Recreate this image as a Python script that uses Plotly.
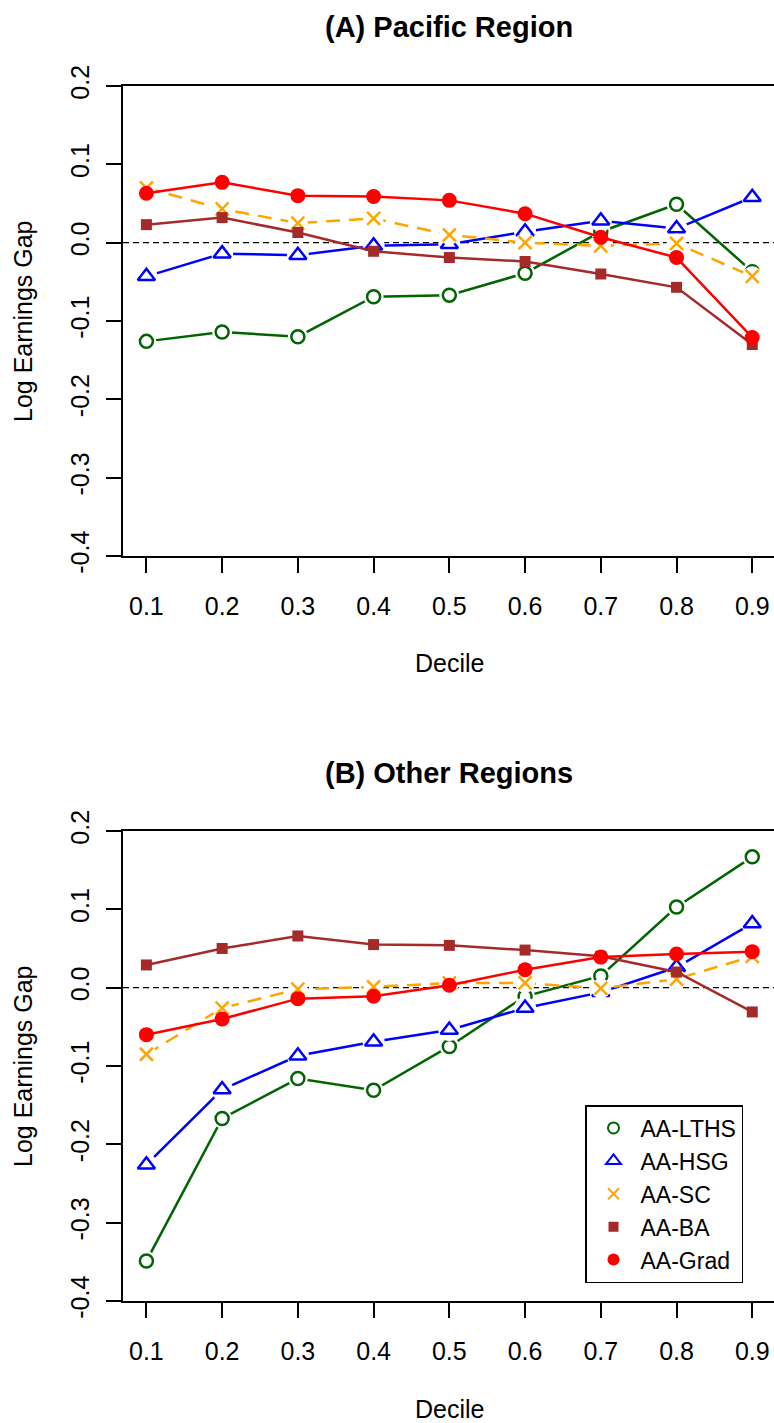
import plotly.graph_objects as go

deciles = [0.1, 0.2, 0.3, 0.4, 0.5, 0.6, 0.7, 0.8, 0.9]
tick_vals_y = [-0.4, -0.3, -0.2, -0.1, 0.0, 0.1, 0.2]
tick_text_y = ["-0.4", "-0.3", "-0.2", "-0.1", "0.0", "0.1", "0.2"]
tick_text_x = ["0.1", "0.2", "0.3", "0.4", "0.5", "0.6", "0.7", "0.8", "0.9"]

series_names = ["AA-LTHS", "AA-HSG", "AA-SC", "AA-BA", "AA-Grad"]

# (A) Pacific Region
pacific_lths = [-0.126, -0.114, -0.120, -0.069, -0.067, -0.039, 0.014, 0.049, -0.037]
pacific_hsg = [-0.043, -0.014, -0.016, -0.004, -0.002, 0.014, 0.028, 0.018, 0.058]
pacific_sc = [0.070, 0.043, 0.025, 0.031, 0.010, 0.000, -0.004, -0.001, -0.043]
pacific_ba = [0.023, 0.032, 0.013, -0.011, -0.019, -0.024, -0.040, -0.057, -0.130]
pacific_grad = [0.063, 0.077, 0.060, 0.059, 0.054, 0.037, 0.007, -0.019, -0.121]

# (B) Other Regions
other_lths = [-0.349, -0.167, -0.116, -0.131, -0.075, -0.011, 0.015, 0.103, 0.167]
other_hsg = [-0.226, -0.130, -0.087, -0.069, -0.054, -0.026, -0.006, 0.026, 0.082]
other_sc = [-0.085, -0.026, -0.002, 0.001, 0.006, 0.006, -0.001, 0.011, 0.040]
other_ba = [0.029, 0.050, 0.066, 0.055, 0.054, 0.048, 0.040, 0.020, -0.031]
other_grad = [-0.060, -0.040, -0.014, -0.011, 0.003, 0.023, 0.039, 0.043, 0.046]

reference_level = 0.0

FONT = "Liberation Sans, Arial, Helvetica, sans-serif"
TITLE_FONT = "Liberation Sans Narrow, Arial Narrow, Liberation Sans, Arial, sans-serif"

styles = [
    dict(color="#006400", symbol="circle", fill="white", size=13, lw=2.5, dash="solid", gap=True, lsize=11),
    dict(color="#0000FF", symbol="triangle-up", fill="white", size=15, lw=2.5, dash="solid", gap=True, lsize=13),
    dict(color="#FFA500", symbol="x-thin", fill="#FFA500", size=13, lw=2.5, dash="14px,9px", gap=True, lsize=11),
    dict(color="#A52A2A", symbol="square", fill="#A52A2A", size=11, lw=0, dash="solid", gap=False, lsize=10),
    dict(color="#FF0000", symbol="circle", fill="#FF0000", size=15, lw=0, dash="solid", gap=False, lsize=12),
]

fig = go.Figure()

W, H = 774, 1423
L = 123

panels = [
    dict(data=[pacific_lths, pacific_hsg, pacific_sc, pacific_ba, pacific_grad], xa="x", ya="y"),
    dict(data=[other_lths, other_hsg, other_sc, other_ba, other_grad], xa="x2", ya="y2"),
]

for p in panels:
    for vals, st in zip(p["data"], styles):
        fig.add_trace(go.Scatter(
            x=deciles, y=vals, mode="lines", xaxis=p["xa"], yaxis=p["ya"],
            line=dict(color=st["color"], width=2.5, dash=st["dash"]),
            showlegend=False, hoverinfo="skip"))
        if st["gap"]:
            fig.add_trace(go.Scatter(
                x=deciles, y=vals, mode="markers", xaxis=p["xa"], yaxis=p["ya"],
                marker=dict(symbol="circle", color="white", size=st["size"] + 7, line=dict(width=0)),
                showlegend=False, hoverinfo="skip"))
        fig.add_trace(go.Scatter(
            x=deciles, y=vals, mode="markers", xaxis=p["xa"], yaxis=p["ya"],
            marker=dict(symbol=st["symbol"], color=st["fill"], size=st["size"],
                        line=dict(color=st["color"], width=st["lw"])),
            showlegend=False, hoverinfo="skip"))

# legend entries (markers only)
for name, st in zip(series_names, styles):
    fig.add_trace(go.Scatter(
        x=[None], y=[None], mode="markers", xaxis="x2", yaxis="y2", name=name,
        marker=dict(symbol=st["symbol"], color=st["fill"], size=st["lsize"],
                    line=dict(color=st["color"], width=2 if st["lw"] else 0)),
        showlegend=True))

def py(v):
    return 1 - v / H

top_dom = [py(556), py(86)]
bot_dom = [py(1301), py(831)]

xaxis_common = dict(
    range=[0.0691, 0.9287], tickvals=deciles, ticktext=tick_text_x,
    showline=True, linecolor="black", linewidth=1.5, mirror=True,
    ticks="outside", ticklen=15, tickwidth=1.5, tickcolor="black",
    showgrid=False, zeroline=False, ticklabelstandoff=12, automargin=False,
    tickfont=dict(family=FONT, size=25, color="black"),
)
yaxis_common = dict(
    range=[-0.4, 0.2], tickvals=tick_vals_y, ticktext=tick_text_y,
    showline=True, linecolor="black", linewidth=1.5, mirror=False,
    ticks="outside", ticklen=15, tickwidth=1.5, tickcolor="black",
    showgrid=False, zeroline=False, tickangle=-90, ticklabelstandoff=7, automargin=False,
    tickfont=dict(family=FONT, size=25, color="black"),
)

fig.update_layout(
    template="none",
    width=W, height=H,
    margin=dict(l=L, r=0, t=0, b=0, autoexpand=False),
    paper_bgcolor="white", plot_bgcolor="white",
    xaxis=dict(domain=[0, 1], anchor="y", **xaxis_common),
    yaxis=dict(domain=top_dom, anchor="x", **yaxis_common),
    xaxis2=dict(domain=[0, 1], anchor="y2", **xaxis_common),
    yaxis2=dict(domain=bot_dom, anchor="x2", **yaxis_common),
    showlegend=True,
    legend=dict(
        x=(585 - L) / (W - L), y=py(1105), xanchor="left", yanchor="top",
        bordercolor="black", borderwidth=1.5, bgcolor="white",
        font=dict(family=FONT, size=23, color="black"),
        itemsizing="trace", itemwidth=44, tracegroupgap=0,
    ),
    shapes=[
        dict(type="line", xref="x domain", yref="y", x0=0, x1=1, y0=reference_level, y1=reference_level,
             line=dict(color="black", width=1.3, dash="6px,4px"), layer="below"),
        dict(type="line", xref="x2 domain", yref="y2", x0=0, x1=1, y0=reference_level, y1=reference_level,
             line=dict(color="black", width=1.3, dash="6px,4px"), layer="below"),
    ],
)

def ann(text, xpx, ypx, size=25, bold=False, angle=0, family=FONT):
    fig.add_annotation(
        text=f"<b>{text}</b>" if bold else text,
        xref="paper", yref="paper",
        x=(xpx - L) / (W - L), y=py(ypx),
        xanchor="center", yanchor="middle", showarrow=False, textangle=angle,
        font=dict(family=family, size=size, color="black"))

ann("(A) Pacific Region", 449, 27, size=29, bold=True, family=TITLE_FONT)
ann("(B) Other Regions", 449, 773, size=29, bold=True, family=TITLE_FONT)
ann("Decile", 449, 663)
ann("Decile", 449, 1409)
ann("Log Earnings Gap", 23, 321, angle=-90)
ann("Log Earnings Gap", 23, 1066, angle=-90)

fig.write_html("out.html")
